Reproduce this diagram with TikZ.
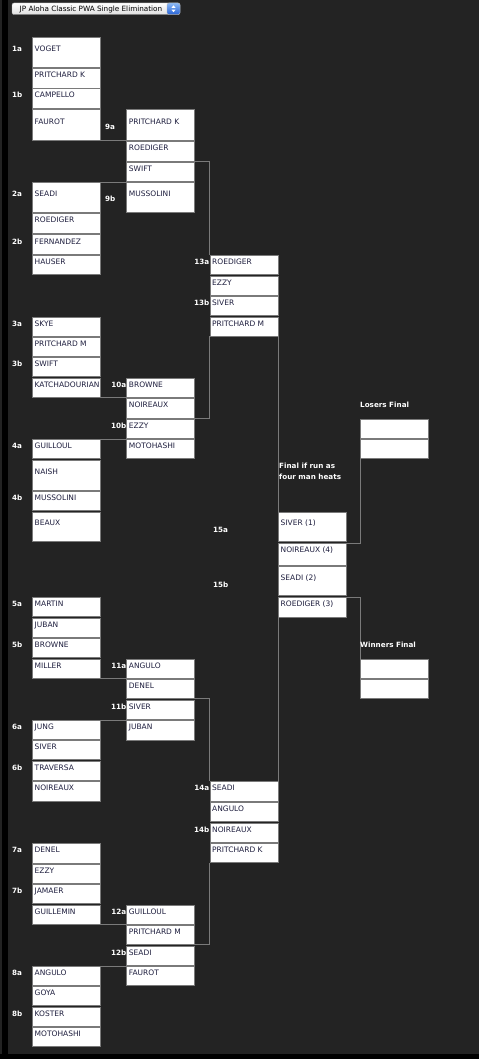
\documentclass[tikz,border=0pt]{standalone}
\usepackage{fontspec}
\setmainfont{DejaVu Sans}
\usetikzlibrary{fit,calc}
\definecolor{bg}{RGB}{35,35,35}
\definecolor{ln}{RGB}{122,122,122}
\definecolor{txt}{RGB}{30,30,62}
\definecolor{btnhi}{RGB}{140,185,245}
\definecolor{btnlo}{RGB}{40,100,215}
\tikzset{
 bbox/.style={draw=ln, fill=white, line width=1pt, inner sep=0pt, outer sep=0pt, rectangle},
 btext/.style={anchor=base west, inner sep=0pt, font=\fontsize{7.5}{9}\selectfont, text=txt},
 lbl/.style={inner sep=0pt, font=\bfseries\fontsize{7.2}{9}\selectfont, text=white},
 conn/.style={draw=ln, line width=1pt},
}
\newcommand\hb[6]{%
 \node[bbox, fit={(#2,#3) ({#2+68},#4)}] (#1) {};
 \node[btext] (#1t) at ([xshift=2pt,yshift=-#5pt]#1.north west) {#6};}
\begin{document}
\begin{tikzpicture}[x=1pt,y=-1pt]
\useasboundingbox (0,0) rectangle (479,1059);
\fill[bg] (0,0) rectangle (479,1059);
\fill[black] (2,0) rectangle (7.5,1059);
\fill[black] (0,1054) rectangle (479,1059);
% dropdown
\shade[top color=white, bottom color=gray!25, draw=gray!60, rounded corners=2pt] (12,3) rectangle (180,14.5);
\shade[top color=btnhi, bottom color=btnlo, draw=gray!60, rounded corners=2pt] (167,3) rectangle (180,14.5);
\fill[white] (171.5,7.8) -- (175.5,7.8) -- (173.5,5.3) -- cycle;
\fill[white] (171.5,9.7) -- (175.5,9.7) -- (173.5,12.2) -- cycle;
\node[anchor=base west, inner sep=0pt, font=\fontsize{7.25}{9}\selectfont, text=black] (title) at (19.5,11.3) {JP Aloha Classic PWA Single Elimination};
\def\ca{32.5}\def\cb{126.7}\def\cc{210}\def\cd{278.5}\def\ce{360.5}
% round 1
\hb{ha1}{\ca}{38}{68}{14}{VOGET}
\hb{ha2}{\ca}{69}{88.5}{9}{PRITCHARD K}
\hb{ha3}{\ca}{89}{108.5}{9}{CAMPELLO}
\hb{ha4}{\ca}{110}{141}{14.5}{FAUROT}
\hb{hb1}{\ca}{183}{213}{14}{SEADI}
\hb{hb2}{\ca}{214}{233.5}{9}{ROEDIGER}
\hb{hb3}{\ca}{235}{254.5}{9}{FERNANDEZ}
\hb{hb4}{\ca}{255}{274.5}{9}{HAUSER}
\hb{hc1}{\ca}{317}{336.5}{9}{SKYE}
\hb{hc2}{\ca}{337}{356.5}{9}{PRITCHARD M}
\hb{hc3}{\ca}{357}{376.5}{9}{SWIFT}
\hb{hc4}{\ca}{378}{397.5}{9}{KATCHADOURIAN}
\hb{hd1}{\ca}{439}{458.5}{9}{GUILLOUL}
\hb{hd2}{\ca}{460}{490}{14}{NAISH}
\hb{hd3}{\ca}{491}{510.5}{9}{MUSSOLINI}
\hb{hd4}{\ca}{512}{541}{13.5}{BEAUX}
\hb{he1}{\ca}{597}{616.5}{9}{MARTIN}
\hb{he2}{\ca}{618}{637.5}{9}{JUBAN}
\hb{he3}{\ca}{638}{657.5}{9}{BROWNE}
\hb{he4}{\ca}{659}{678.5}{9}{MILLER}
\hb{hf1}{\ca}{720}{739.5}{9}{JUNG}
\hb{hf2}{\ca}{740}{759.5}{9}{SIVER}
\hb{hf3}{\ca}{761}{780.5}{9}{TRAVERSA}
\hb{hf4}{\ca}{781}{801}{9}{NOIREAUX}
\hb{hg1}{\ca}{843}{863}{9}{DENEL}
\hb{hg2}{\ca}{864}{883.5}{9}{EZZY}
\hb{hg3}{\ca}{884}{903.5}{9}{JAMAER}
\hb{hg4}{\ca}{905}{924.5}{9}{GUILLEMIN}
\hb{hh1}{\ca}{966}{985.5}{9}{ANGULO}
\hb{hh2}{\ca}{986}{1005.5}{9}{GOYA}
\hb{hh3}{\ca}{1007}{1026.5}{9}{KOSTER}
\hb{hh4}{\ca}{1027}{1046.5}{9}{MOTOHASHI}
% round 2
\hb{hi1}{\cb}{110}{141}{14.5}{PRITCHARD K}
\hb{hi2}{\cb}{142}{162}{9}{ROEDIGER}
\hb{hi3}{\cb}{163}{182}{9}{SWIFT}
\hb{hi4}{\cb}{183}{213}{14}{MUSSOLINI}
\hb{hj1}{\cb}{378}{397.5}{9}{BROWNE}
\hb{hj2}{\cb}{398}{418}{9}{NOIREAUX}
\hb{hj3}{\cb}{419}{438.5}{9}{EZZY}
\hb{hj4}{\cb}{439}{458.5}{9}{MOTOHASHI}
\hb{hk1}{\cb}{659}{678.5}{9}{ANGULO}
\hb{hk2}{\cb}{679}{698.5}{9}{DENEL}
\hb{hk3}{\cb}{700}{719.5}{9}{SIVER}
\hb{hk4}{\cb}{720}{740}{9}{JUBAN}
\hb{hl1}{\cb}{905}{924.5}{9}{GUILLOUL}
\hb{hl2}{\cb}{925}{944.5}{9}{PRITCHARD M}
\hb{hl3}{\cb}{946}{965.5}{9}{SEADI}
\hb{hl4}{\cb}{966}{985.5}{9}{FAUROT}
% round 3
\hb{hm1}{\cc}{255}{274.5}{9}{ROEDIGER}
\hb{hm2}{\cc}{276}{295.5}{9}{EZZY}
\hb{hm3}{\cc}{296}{315.5}{9}{SIVER}
\hb{hm4}{\cc}{317}{336}{9}{PRITCHARD M}
\hb{hn1}{\cc}{781}{801}{9}{SEADI}
\hb{hn2}{\cc}{802}{821.5}{9}{ANGULO}
\hb{hn3}{\cc}{823}{842}{9}{NOIREAUX}
\hb{hn4}{\cc}{843}{862.5}{9}{PRITCHARD K}
% final
\hb{fa}{\cd}{512}{541.5}{13.5}{SIVER (1)}
\hb{fb}{\cd}{543}{565}{9}{NOIREAUX (4)}
\hb{fc}{\cd}{566}{595.5}{14}{SEADI (2)}
\hb{fd}{\cd}{597}{617}{9}{ROEDIGER (3)}
% losers / winners final
\node[bbox, fit={(\ce,419) (428.5,438.5)}] (la) {};
\node[bbox, fit={(\ce,439) (428.5,458.5)}] (lb) {};
\node[bbox, fit={(\ce,659) (428.5,678.5)}] (wa) {};
\node[bbox, fit={(\ce,679) (428.5,698.5)}] (wb) {};
% connectors
\draw[conn] (ha4.south east) -- (ha4.south east -| hi1.west);
\draw[conn] (hb1.north east) -- (hb1.north east -| hi3.west);
\draw[conn] (hc4.south east) -- (hc4.south east -| hj1.west);
\draw[conn] (hd1.north east) -- (hd1.north east -| hj3.west);
\draw[conn] (he4.south east) -- (he4.south east -| hk1.west);
\draw[conn] (hf1.north east) -- (hf1.north east -| hk3.west);
\draw[conn] (hg4.south east) -- (hg4.south east -| hl1.west);
\draw[conn] (hh1.north east) -- (hh1.north east -| hl3.west);
\draw[conn] (hi2.south east) -| ([xshift=-0.5pt]hm1.north west);
\draw[conn] (hj2.south east) -| ([xshift=-0.5pt]hm4.south west);
\draw[conn] (hk2.south east) -| ([xshift=-0.5pt]hn1.north west);
\draw[conn] (hl2.south east) -| ([xshift=-0.5pt]hn4.south west);
\draw[conn] (hm4.south east) -- (hm4.south east |- fa.north);
\draw[conn] (hn1.north east) -- (hn1.north east |- fd.south);
\draw[conn] (fb.north east) -| (lb.south west);
\draw[conn] (fd.north east) -| (wa.north west);
% labels
\node[lbl, anchor=base west] (l1a) at (12,52) {1a};
\node[lbl, anchor=base west] (l1b) at (12,98) {1b};
\node[lbl, anchor=base west] (l2a) at (12,197) {2a};
\node[lbl, anchor=base west] (l2b) at (12,244) {2b};
\node[lbl, anchor=base west] (l3a) at (12,326) {3a};
\node[lbl, anchor=base west] (l3b) at (12,366) {3b};
\node[lbl, anchor=base west] (l4a) at (12,448) {4a};
\node[lbl, anchor=base west] (l4b) at (12,500) {4b};
\node[lbl, anchor=base west] (l5a) at (12,606) {5a};
\node[lbl, anchor=base west] (l5b) at (12,647) {5b};
\node[lbl, anchor=base west] (l6a) at (12,729) {6a};
\node[lbl, anchor=base west] (l6b) at (12,770) {6b};
\node[lbl, anchor=base west] (l7a) at (12,852) {7a};
\node[lbl, anchor=base west] (l7b) at (12,893) {7b};
\node[lbl, anchor=base west] (l8a) at (12,975) {8a};
\node[lbl, anchor=base west] (l8b) at (12,1016) {8b};
\node[lbl, anchor=base west] (l9a) at (105,130) {9a};
\node[lbl, anchor=base west] (l9b) at (105,202) {9b};
\node[lbl, anchor=base east] (l10a) at (126.5,387) {10a};
\node[lbl, anchor=base east] (l10b) at (126.5,428) {10b};
\node[lbl, anchor=base east] (l11a) at (126.5,668) {11a};
\node[lbl, anchor=base east] (l11b) at (126.5,709) {11b};
\node[lbl, anchor=base east] (l12a) at (126.5,914) {12a};
\node[lbl, anchor=base east] (l12b) at (126.5,955) {12b};
\node[lbl, anchor=base east] (l13a) at (209.5,264) {13a};
\node[lbl, anchor=base east] (l13b) at (209.5,305) {13b};
\node[lbl, anchor=base east] (l14a) at (209.5,790) {14a};
\node[lbl, anchor=base east] (l14b) at (209.5,832) {14b};
\node[lbl, anchor=base west] (l15a) at (213,532) {15a};
\node[lbl, anchor=base west] (l15b) at (213,587) {15b};
\node[lbl, anchor=base west] (fin1) at (279,468) {Final if run as};
\node[lbl, anchor=base west] (fin2) at (279,479.5) {four man heats};
\node[lbl, anchor=base west] (lf) at (360,407.5) {Losers Final};
\node[lbl, anchor=base west] (wf) at (360,647.5) {Winners Final};
\end{tikzpicture}
\end{document}
